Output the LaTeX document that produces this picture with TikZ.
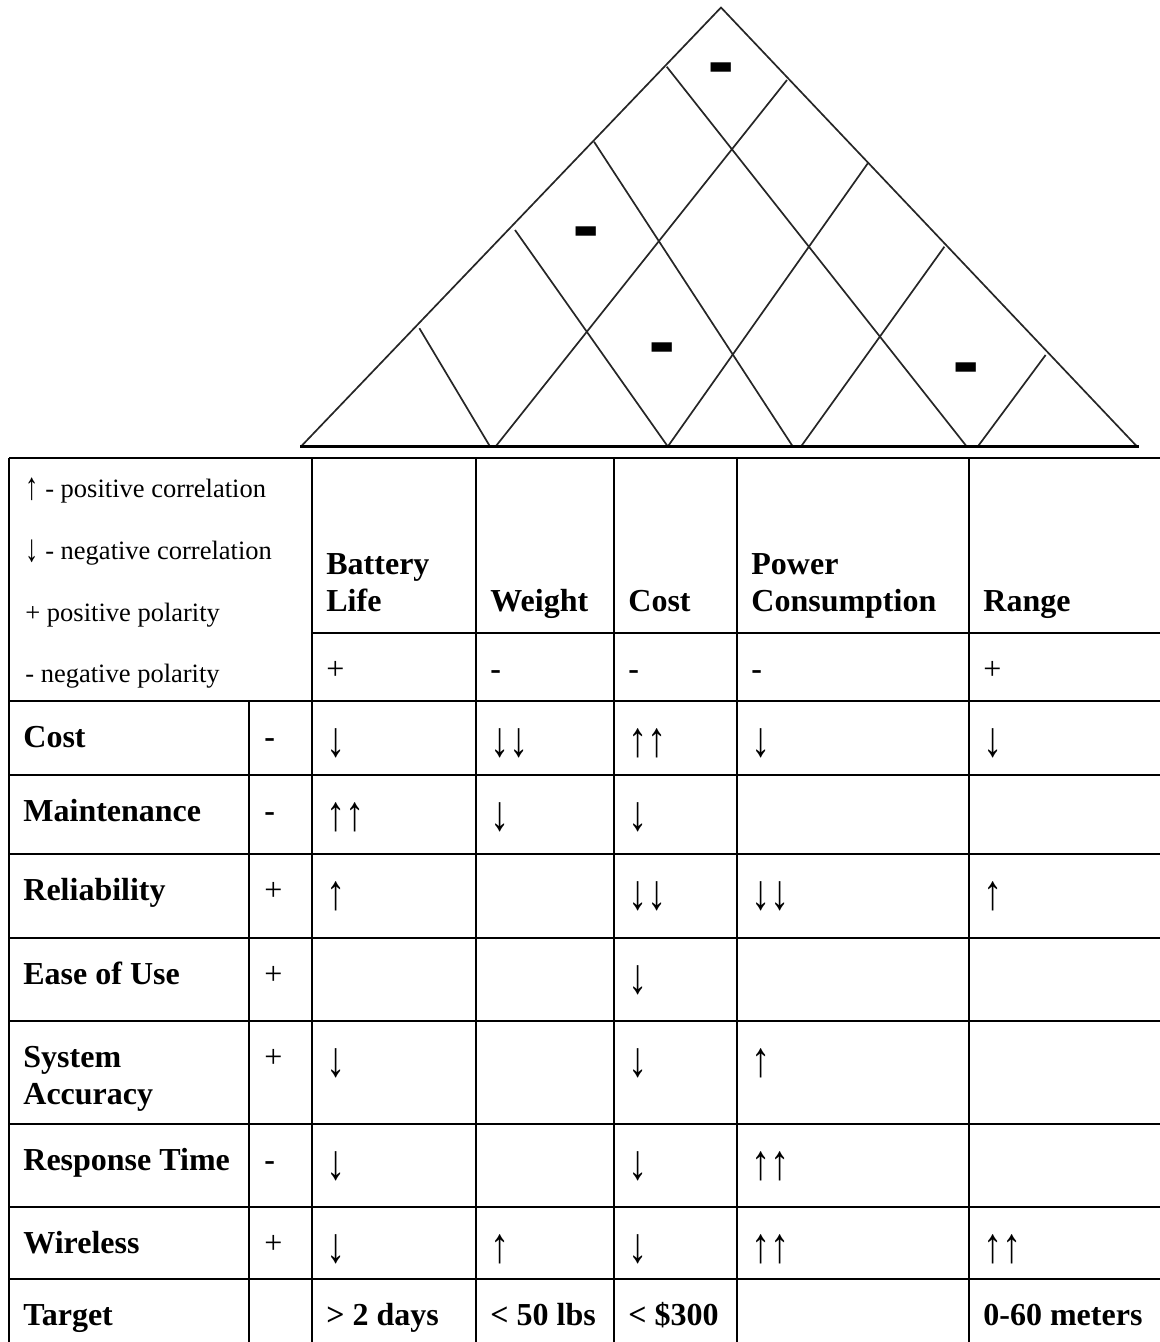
\documentclass[tikz,border=0pt]{standalone}
\usepackage{graphicx}
\usepackage{fontspec}
\setmainfont{Liberation Serif}
\newfontfamily\markfont{DejaVu Sans}
% tall, slim correlation arrows
\newcommand{\corrup}{\raisebox{-4.5pt}{\scalebox{1.2}[1.55]{↑}}}
\newcommand{\corrdown}{\raisebox{-4.5pt}{\scalebox{1.2}[1.55]{↓}}}
\newcommand{\keyup}{\raisebox{-1pt}{\scalebox{1}[1.45]{↑}}}
\newcommand{\keydown}{\raisebox{-1pt}{\scalebox{1}[1.45]{↓}}}
\begin{document}
\begin{tikzpicture}[x=0.5pt,y=-0.5pt,
  grid/.style={line width=1.3pt,black},
  roof/.style={line width=0.85pt,black!85},
  roofbase/.style={line width=1.5pt,black},
  cell/.style={anchor=base west,inner sep=0pt,font=\fontsize{16}{19}\selectfont},
  head/.style={anchor=base west,inner sep=0pt,font=\fontsize{16}{19}\selectfont\bfseries},
  key/.style={anchor=base west,inner sep=0pt,font=\fontsize{13.25}{16}\selectfont},
  negmark/.style={inner sep=0pt,font=\markfont\bfseries\fontsize{33}{33}\selectfont}
]
\useasboundingbox (0,0) rectangle (1160,1342);

% ---------- correlation roof ----------
\coordinate (apex) at (721,7.5);
\coordinate (bl) at (301,446.5);
\coordinate (br) at (1137,446.5);
\coordinate (a1) at (666.7,66.7);
\coordinate (a2) at (594,141.7);
\coordinate (a3) at (515,230);
\coordinate (a4) at (419.4,328.3);
\coordinate (b1) at (787,80);
\coordinate (b2) at (867.8,163.3);
\coordinate (b3) at (944.4,246.7);
\coordinate (b4) at (1045.6,355);
\coordinate (p1) at (490,446.5);
\coordinate (p2) at (495.6,446.5);
\coordinate (p3) at (667.8,446.5);
\coordinate (p4) at (792.8,446.5);
\coordinate (p5) at (801,446.5);
\coordinate (p6) at (966.7,446.5);
\coordinate (p7) at (977.8,446.5);
\draw[roof] (bl) -- (apex) -- (br);
\draw[roof] (a1) -- (p6);
\draw[roof] (a2) -- (p4);
\draw[roof] (a3) -- (p3);
\draw[roof] (a4) -- (p1);
\draw[roof] (p2) -- (b1);
\draw[roof] (p3) -- (b2);
\draw[roof] (p5) -- (b3);
\draw[roof] (p7) -- (b4);
\draw[roofbase] (300,446.5) -- (1139,446.5);

\node[negmark] (n1) at (721,75) {-};
\node[negmark] (n2) at (586,239) {-};
\node[negmark] (n3) at (662,354.5) {-};
\node[negmark] (n4) at (966,375) {-};

% ---------- table grid ----------
\draw[grid] (9,458) -- (1160,458);
\draw[grid] (9,458) -- (9,1342);
\foreach \cx in {312,476,614,737,969} \draw[grid] (\cx,458) -- (\cx,1342);
\draw[grid] (249,701) -- (249,1342);
\draw[grid] (312,633) -- (1160,633);
\foreach \ry in {701,775,854,938,1021,1124,1207,1279} \draw[grid] (9,\ry) -- (1160,\ry);

% ---------- legend ----------
\node[key] (k1) at (25,497) {\keyup{} - positive correlation};
\node[key] (k2) at (25,559) {\keydown{} - negative correlation};
\node[key] (k3) at (25,621) {+ positive polarity};
\node[key] (k4) at (25,682) {- negative polarity};

% ---------- column headers ----------
\node[head] (h1a) at (326,574) {Battery};
\node[head] (h1b) at (326,611) {Life};
\node[head] (h2) at (490,611) {Weight};
\node[head] (h3) at (628,611) {Cost};
\node[head] (h4a) at (751,574) {Power};
\node[head] (h4b) at (751,611) {Consumption};
\node[head] (h5) at (983,611) {Range};

\node[cell] (q1) at (326,679) {+};
\node[cell] (q2) at (490,679) {\textbf{-}};
\node[cell] (q3) at (628,679) {\textbf{-}};
\node[cell] (q4) at (751,679) {\textbf{-}};
\node[cell] (q5) at (983,679) {+};

% ---------- rows ----------
% Cost
\node[head] (r1) at (23,747) {Cost};
\node[cell] (r1p) at (264,747) {\textbf{-}};
\node[cell] (r1a) at (326,747) {\corrdown};
\node[cell] (r1b) at (490,747) {\corrdown\corrdown};
\node[cell] (r1c) at (628,747) {\corrup\corrup};
\node[cell] (r1d) at (751,747) {\corrdown};
\node[cell] (r1e) at (983,747) {\corrdown};
% Maintenance
\node[head] (r2) at (23,821) {Maintenance};
\node[cell] (r2p) at (264,821) {\textbf{-}};
\node[cell] (r2a) at (326,821) {\corrup\corrup};
\node[cell] (r2b) at (490,821) {\corrdown};
\node[cell] (r2c) at (628,821) {\corrdown};
% Reliability
\node[head] (r3) at (23,900) {Reliability};
\node[cell] (r3p) at (264,900) {+};
\node[cell] (r3a) at (326,900) {\corrup};
\node[cell] (r3c) at (628,900) {\corrdown\corrdown};
\node[cell] (r3d) at (751,900) {\corrdown\corrdown};
\node[cell] (r3e) at (983,900) {\corrup};
% Ease of Use
\node[head] (r4) at (23,984) {Ease of Use};
\node[cell] (r4p) at (264,984) {+};
\node[cell] (r4c) at (628,984) {\corrdown};
% System Accuracy
\node[head] (r5a) at (23,1067) {System};
\node[head] (r5b) at (23,1104) {Accuracy};
\node[cell] (r5p) at (264,1067) {+};
\node[cell] (r5a1) at (326,1067) {\corrdown};
\node[cell] (r5c) at (628,1067) {\corrdown};
\node[cell] (r5d) at (751,1067) {\corrup};
% Response Time
\node[head] (r6) at (23,1170) {Response Time};
\node[cell] (r6p) at (264,1170) {\textbf{-}};
\node[cell] (r6a) at (326,1170) {\corrdown};
\node[cell] (r6c) at (628,1170) {\corrdown};
\node[cell] (r6d) at (751,1170) {\corrup\corrup};
% Wireless
\node[head] (r7) at (23,1253) {Wireless};
\node[cell] (r7p) at (264,1253) {+};
\node[cell] (r7a) at (326,1253) {\corrdown};
\node[cell] (r7b) at (490,1253) {\corrup};
\node[cell] (r7c) at (628,1253) {\corrdown};
\node[cell] (r7d) at (751,1253) {\corrup\corrup};
\node[cell] (r7e) at (983,1253) {\corrup\corrup};
% Target
\node[head] (r8) at (23,1325) {Target};
\node[head] (r8a) at (326,1325) {> 2 days};
\node[head] (r8b) at (490,1325) {< 50 lbs};
\node[head] (r8c) at (628,1325) {< \$300};
\node[head] (r8e) at (983,1325) {0-60 meters};
\end{tikzpicture}
\end{document}
